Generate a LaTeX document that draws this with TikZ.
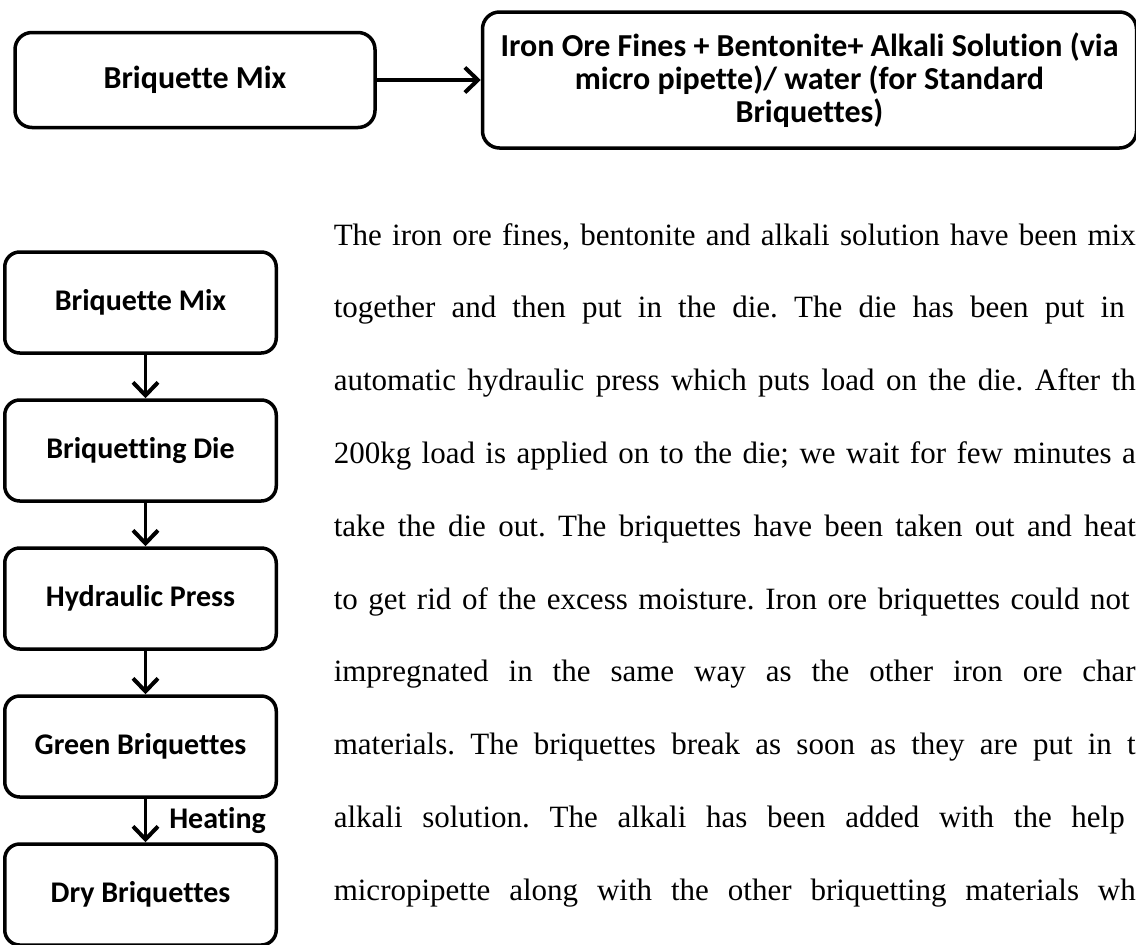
\documentclass[tikz,border=0pt]{standalone}
\usepackage{fontspec}
\setmainfont{Liberation Serif}
\newfontfamily\boxfont[Ligatures={NoCommon,NoContextual}]{Carlito}
\usetikzlibrary{positioning}
\usetikzlibrary{arrows.meta}
\frenchspacing
\newcommand{\justline}[2]{\makebox[#1][s]{#2}}
\tikzset{
        boxnode/.style={align=center,inner sep=0pt,draw=black,line width=3.5pt},
        % Top row nodes
        node_top/.style={boxnode, rounded corners=17pt, font=\boxfont\bfseries\fontsize{32}{33}\selectfont},
        % Process step nodes
        node_step/.style={boxnode, rounded corners=15pt, minimum width=271.5pt, minimum height=101pt, font=\boxfont\bfseries\fontsize{30}{32}\selectfont},
        % Arrow label
        node_label/.style={inner sep=0pt, font=\boxfont\bfseries\fontsize{30}{32}\selectfont},
        % Paragraph lines
        node_line/.style={anchor=base west, inner sep=0pt, font=\fontsize{31}{33}\selectfont}
}
\begin{document}
\begin{tikzpicture}[
            x=1pt, y=-1pt,
            ->, >={Straight Barb[length=13pt,width=25pt,line width=4pt]},
            line width=3.5pt,
            node distance=43.5pt
        ]
            \useasboundingbox (0,0) rectangle (1136,945);
            % top row
            \node[node_top, minimum width=360pt, minimum height=95pt] (topmix) at (195,80) {Briquette Mix};
            \node[node_top, minimum width=654pt, minimum height=136pt, right=104pt of topmix] (ingredients)
                {Iron Ore Fines + Bentonite+ Alkali Solution (via\\ micro pipette)/ water (for Standard\\ Briquettes)};
            \draw (topmix) -- (ingredients);
            % process column
            \node[node_step] (mix) at (140.5,302.5) {Briquette Mix};
            \node[node_step, below=of mix] (die) {Briquetting Die};
            \node[node_step, below=of die] (press) {Hydraulic Press};
            \node[node_step, below=of press] (green) {Green Briquettes};
            \node[node_step, below=of green] (dry) {Dry Briquettes};
            \draw ([xshift=5pt]mix.south) -- ([xshift=5pt]die.north);
            \draw ([xshift=5pt]die.south) -- ([xshift=5pt]press.north);
            \draw ([xshift=5pt]press.south) -- ([xshift=5pt]green.north);
            \draw ([xshift=5pt]green.south) -- node[node_label, right=22pt] {Heating} ([xshift=5pt]dry.north);
            % paragraph
            \node[node_line] (line1) at (332,245) {\justline{802pt}{The iron ore fines, bentonite and alkali solution have been mix}};
            \node[node_line] (line2) at (332,317.8) {\justline{791pt}{together and then put in the die. The die has been put in}};
            \node[node_line] (line3) at (332,390.6) {\justline{802pt}{automatic hydraulic press which puts load on the die. After th}};
            \node[node_line] (line4) at (332,463.4) {\justline{802pt}{200kg load is applied on to the die; we wait for few minutes a}};
            \node[node_line] (line5) at (332,536.2) {\justline{802pt}{take the die out. The briquettes have been taken out and heat}};
            \node[node_line] (line6) at (332,609) {\justline{796pt}{to get rid of the excess moisture. Iron ore briquettes could not}};
            \node[node_line] (line7) at (332,681.8) {\justline{802pt}{impregnated in the same way as the other iron ore char}};
            \node[node_line] (line8) at (332,754.6) {\justline{802pt}{materials. The briquettes break as soon as they are put in t}};
            \node[node_line] (line9) at (332,827.4) {\justline{791pt}{alkali solution. The alkali has been added with the help}};
            \node[node_line] (line10) at (332,900.2) {\justline{802pt}{micropipette along with the other briquetting materials wh}};
        \end{tikzpicture}
\end{document}
